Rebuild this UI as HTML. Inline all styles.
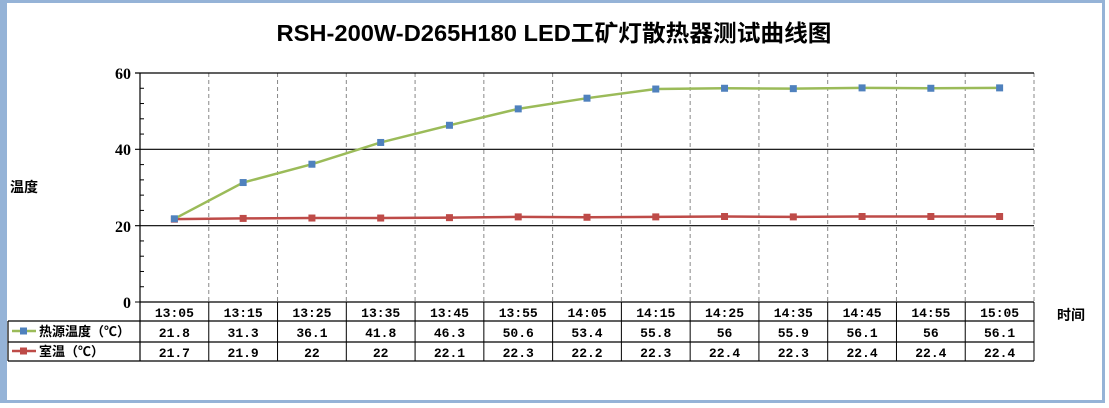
<!DOCTYPE html>
<html><head><meta charset="utf-8"><style>body{margin:0;background:#fff}svg{display:block}</style></head><body>
<svg width="1109" height="408" xmlns="http://www.w3.org/2000/svg" font-family="'Liberation Sans','Noto Sans CJK SC',sans-serif">
<rect x="0" y="0" width="1109" height="408" fill="#fff"/>
<rect x="3.5" y="1.5" width="1100" height="400" fill="none" stroke="#95b3d7" stroke-width="3"/>
<rect x="0" y="0" width="7" height="403" fill="#95b3d7"/>
<text x="554" y="41" text-anchor="middle" font-size="23" font-weight="bold" fill="#000" textLength="555" lengthAdjust="spacingAndGlyphs">RSH-200W-D265H180 LED工矿灯散热器测试曲线图</text>
<text x="10" y="192" font-size="14" font-weight="bold">温度</text>
<text x="1057" y="320" font-size="14" font-weight="bold">时间</text>
<g font-size="16" font-weight="bold" text-anchor="end" font-family="'Liberation Serif',serif">
<text x="131" y="79">60</text><text x="131" y="155">40</text><text x="131" y="232">20</text><text x="131" y="308">0</text>
</g>
<g id="g"></g>
<script>
var g=document.getElementById('g'),ns='http://www.w3.org/2000/svg';
function el(t,a,p,txt){var e=document.createElementNS(ns,t);for(var k in a)e.setAttribute(k,a[k]);if(txt!=null)e.textContent=txt;(p||g).appendChild(e);return e;}
var L=140,R=1034,T=73,B=302,cw=(R-L)/13;
function Y(v){return B-(B-T)*v/60;}
for(var i=1;i<=13;i++){var x=L+cw*i;el('line',{x1:x,y1:T,x2:x,y2:B,stroke:'#888','stroke-dasharray':'4,3'});}
[20,40,60].forEach(function(v){el('line',{x1:135,y1:Y(v),x2:R,y2:Y(v),stroke:'#000','stroke-width':1.2});});
for(var v=4;v<60;v+=4){if(v%20)el('line',{x1:140,y1:Y(v),x2:144,y2:Y(v),stroke:'#000'});}
el('line',{x1:135,y1:B,x2:140,y2:B,stroke:'#000'});
el('line',{x1:L,y1:T,x2:L,y2:361,stroke:'#000','stroke-width':1.2});
var times=['13:05','13:15','13:25','13:35','13:45','13:55','14:05','14:15','14:25','14:35','14:45','14:55','15:05'];
var a=[21.8,31.3,36.1,41.8,46.3,50.6,53.4,55.8,56,55.9,56.1,56,56.1];
var b=[21.7,21.9,22,22,22.1,22.3,22.2,22.3,22.4,22.3,22.4,22.4,22.4];
function series(d,c,m){var p=d.map(function(v,i){return (L+cw*(i+.5))+','+Y(v)}).join(' ');
el('polyline',{points:p,fill:'none',stroke:c,'stroke-width':2.5});
d.forEach(function(v,i){el('rect',{x:L+cw*(i+.5)-3.5,y:Y(v)-3.5,width:7,height:7,fill:m});});}
series(b,'#be4b48','#be4b48');series(a,'#9bbb59','#4f81bd');
el('line',{x1:L,y1:B,x2:R,y2:B,stroke:'#000','stroke-width':1.2});
[321,342,361].forEach(function(y){el('line',{x1:y==321?8:8,y1:y,x2:R,y2:y,stroke:'#000','stroke-width':1.2});});
el('line',{x1:8,y1:321,x2:8,y2:361,stroke:'#000','stroke-width':1.2});
for(var i=1;i<=13;i++){var x=L+cw*i;el('line',{x1:x,y1:B,x2:x,y2:361,stroke:'#000'});}
var f={'font-size':13,'font-weight':'bold','text-anchor':'middle','font-family':"'Liberation Mono',monospace"};
times.forEach(function(t,i){el('text',Object.assign({x:L+cw*(i+.5),y:317},f),null,t);
el('text',Object.assign({},f,{x:L+cw*(i+.5),y:337}),null,a[i]);
el('text',Object.assign({},f,{x:L+cw*(i+.5),y:357}),null,b[i]);});
el('line',{x1:12,y1:331,x2:36,y2:331,stroke:'#9bbb59','stroke-width':2.5});el('rect',{x:20,y:327.5,width:7,height:7,fill:'#4f81bd'});
el('line',{x1:12,y1:351,x2:36,y2:351,stroke:'#be4b48','stroke-width':2.5});el('rect',{x:20,y:347.5,width:7,height:7,fill:'#be4b48'});
el('text',{x:39,y:336,'font-size':13,'font-weight':'bold'},null,'热源温度（℃）');
el('text',{x:39,y:356,'font-size':13,'font-weight':'bold'},null,'室温（℃）');
</script>
</svg>
</body></html>
